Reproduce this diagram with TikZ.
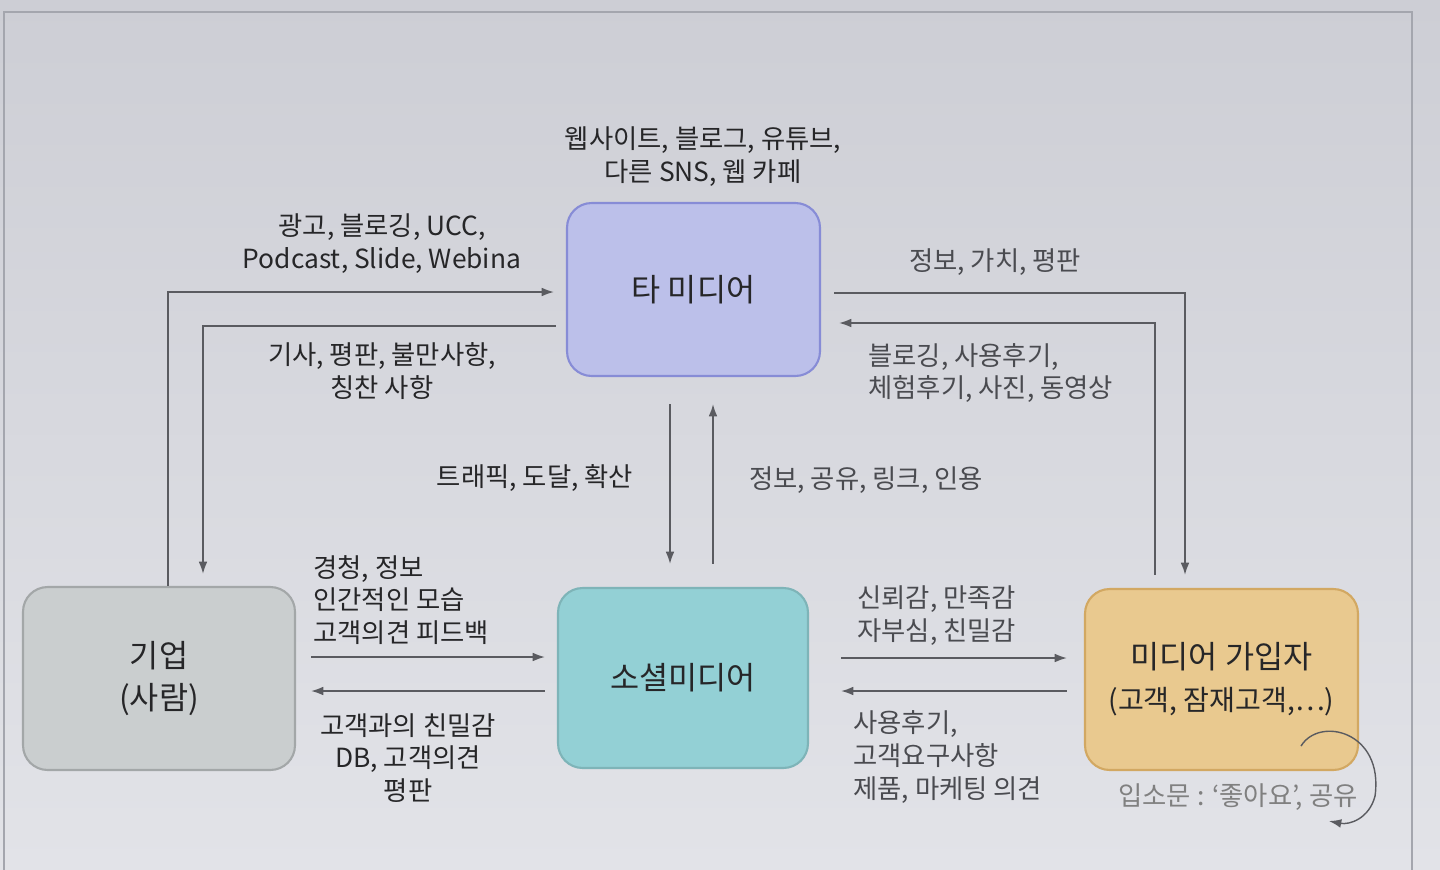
\documentclass[tikz,border=0pt]{standalone}
\usepackage{fontspec}
\setmainfont{Noto Sans CJK KR}
\usetikzlibrary{positioning,calc,arrows.meta}

\definecolor{bgtop}{HTML}{CDCED5}
\definecolor{bgbot}{HTML}{E2E3E8}
\definecolor{framec}{HTML}{A4A6AE}
\definecolor{linec}{HTML}{5A5B60}
\definecolor{textc}{HTML}{262628}
\definecolor{softc}{HTML}{4A4B50}
\definecolor{otherfill}{HTML}{BCC0EA}
\definecolor{otherdraw}{HTML}{878CD6}
\definecolor{corpfill}{HTML}{CACECF}
\definecolor{corpdraw}{HTML}{A3A7A8}
\definecolor{socialfill}{HTML}{93D0D5}
\definecolor{socialdraw}{HTML}{7EB4B8}
\definecolor{memberfill}{HTML}{E9C98F}
\definecolor{memberdraw}{HTML}{D2A862}

\tikzset{
    box/.style={rounded corners=14pt, line width=1.2pt, inner sep=0pt,
        align=center, text=textc, font=\fontsize{18}{24}\selectfont},
    flow/.style={draw=linec, line width=1pt, -{Latex[length=7pt,width=5pt]}},
    lbl/.style={inner sep=0pt, text=textc, font=\fontsize{15}{18.7}\selectfont},
    softlbl/.style={lbl, text=softc}
}

\begin{document}
\begin{tikzpicture}[x=0.02cm, y=-0.02cm]
    \useasboundingbox (0,0) rectangle (1440,869);
    % screen background and frame
    \shade[top color=bgtop, bottom color=bgbot] (0,0) rectangle (1440,869);
    \draw[framec, line width=1pt] (4,880) -- (4,12) -- (1412,12) -- (1412,880);

    % main boxes
    \node[box, fill=otherfill, draw=otherdraw, minimum width=5.06cm, minimum height=3.46cm]
        (other) at (693.5,289.5) {타 미디어};
    \node[box, fill=corpfill, draw=corpdraw, minimum width=5.44cm, minimum height=3.66cm]
        (corp) at (159,678.5) {기업\\(사람)};
    \node[box, fill=socialfill, draw=socialdraw, minimum width=5.0cm, minimum height=3.6cm]
        (social) at (683,678) {소셜미디어};
    \node[box, fill=memberfill, draw=memberdraw, minimum width=5.46cm, minimum height=3.62cm]
        (member) at (1221.5,679.5) {미디어 가입자\\{\fontsize{16}{22}\selectfont(고객, 잠재고객,…)}};

    % corp <-> other media
    \draw[flow] ($(corp.north)+(9,0)$) |- ($(other.west)+(-12,2.5)$);
    \draw[flow] ($(other.west)+(-10,36.5)$) -| ($(corp.north)+(44,-12)$);
    % other media <-> member
    \draw[flow] ($(other.east)+(13,3.5)$) -| ($(member.north)+(-36.5,-13)$);
    \draw[flow] ($(member.north)+(-66.5,-13)$) |- ($(other.east)+(18,33.5)$);
    % other media <-> social media
    \draw[flow] ($(other.south)+(-23.5,27)$) -- ($(social.north)+(-13,-23)$);
    \draw[flow] ($(social.north)+(30,-23)$) -- ($(other.south)+(19.5,27)$);
    % corp <-> social media
    \draw[flow] ($(corp.east)+(15,-21.5)$) -- ($(social.west)+(-12,-21)$);
    \draw[flow] ($(social.west)+(-12,13)$) -- ($(corp.east)+(15,12.5)$);
    % social media <-> member
    \draw[flow] ($(social.east)+(32,-20)$) -- ($(member.west)+(-17,-21.5)$);
    \draw[flow] ($(member.west)+(-17,11.5)$) -- ($(social.east)+(32,13)$);
    % word of mouth loop
    \draw[flow, line width=0.8pt] ($(member.south east)+(-58,-25)$)
        .. controls ($(member.south east)+(-40,-55)$) and ($(member.south east)+(25,-40)$) .. ($(member.south east)+(16,25)$)
        .. controls ($(member.south east)+(10,48)$) and ($(member.south east)+(-10,54)$) .. ($(member.south east)+(-30,50)$);

    % labels
    \node[lbl, align=center] (lblWeb) at (703,157) {웹사이트, 블로그, 유튜브,\\다른 SNS, 웹 카페};
    \node[lbl, align=center] (lblAd) at (382,244) {광고, 블로깅, UCC,\\Podcast, Slide, Webina};
    \node[lbl, align=center] (lblNews) at (382,371) {기사, 평판, 불만사항,\\칭찬 사항};
    \node[softlbl, align=center] (lblValue) at (995,262) {정보, 가치, 평판};
    \node[softlbl, align=left, anchor=west] (lblReview) at (868,373) {블로깅, 사용후기,\\체험후기, 사진, 동영상};
    \node[lbl, align=center] (lblTraffic) at (535,478) {트래픽, 도달, 확산};
    \node[softlbl, align=center] (lblShare) at (866,480) {정보, 공유, 링크, 인용};
    \node[lbl, align=left, anchor=west] (lblListen) at (313,600) {경청, 정보\\인간적인 모습\\고객의견 피드백};
    \node[lbl, align=center] (lblIntimacy) at (408,758) {고객과의 친밀감\\DB, 고객의견\\평판};
    \node[softlbl, align=left, anchor=west] (lblTrust) at (857,616) {신뢰감, 만족감\\자부심, 친밀감};
    \node[softlbl, align=left, anchor=west] (lblNeeds) at (853,757) {사용후기,\\고객요구사항\\제품, 마케팅 의견};
    \node[lbl, text=gray] (lblMouth) at (1238,797) {입소문 : ‘좋아요’, 공유};
\end{tikzpicture}
\end{document}
